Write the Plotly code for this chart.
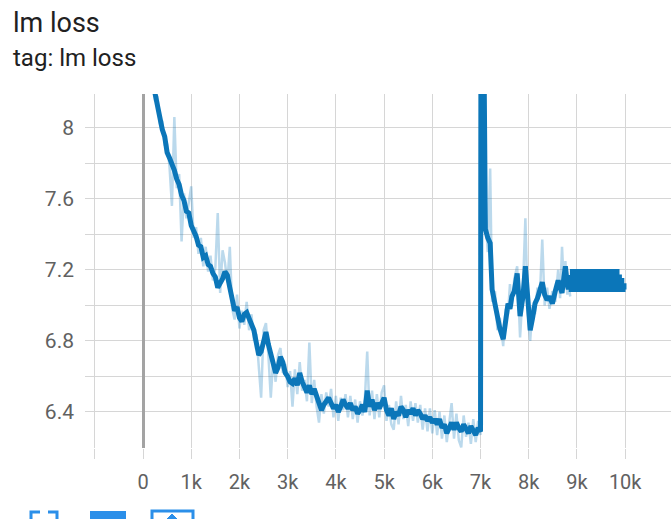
import plotly.graph_objects as go

# ---------------- data ----------------
steps_a = list(range(200, 7001, 50))
smooth_a = [8.26, 8.19, 8.14, 8.08, 7.99, 7.95, 7.86, 7.83, 7.80, 7.76,
            7.71, 7.68, 7.62, 7.59, 7.53, 7.52, 7.45, 7.42, 7.39, 7.34,
            7.33, 7.27, 7.28, 7.23, 7.22, 7.18, 7.16, 7.10, 7.12, 7.15,
            7.19, 7.17, 7.10, 7.04, 6.97, 6.99, 6.93, 6.91, 6.95, 6.96,
            6.92, 6.89, 6.86, 6.79, 6.72, 6.74, 6.80, 6.85, 6.78, 6.72,
            6.66, 6.62, 6.65, 6.71, 6.68, 6.62, 6.60, 6.57, 6.56, 6.59,
            6.55, 6.62, 6.57, 6.53, 6.51, 6.55, 6.50, 6.53, 6.49, 6.46,
            6.41, 6.44, 6.46, 6.48, 6.45, 6.42, 6.44, 6.40, 6.43, 6.47,
            6.44, 6.42, 6.45, 6.41, 6.43, 6.39, 6.41, 6.44, 6.40, 6.52,
            6.43, 6.47, 6.41, 6.45, 6.42, 6.46, 6.48, 6.41, 6.38, 6.42,
            6.36, 6.40, 6.38, 6.43, 6.41, 6.37, 6.41, 6.39, 6.42, 6.38,
            6.41, 6.39, 6.36, 6.38, 6.35, 6.37, 6.34, 6.36, 6.33, 6.36,
            6.31, 6.33, 6.28, 6.31, 6.34, 6.30, 6.34, 6.31, 6.29, 6.33,
            6.31, 6.28, 6.32, 6.30, 6.27, 6.31, 6.29]
raw_a = [8.30, 8.15, 8.18, 8.02, 8.04, 7.90, 7.91, 7.78, 7.56, 8.06,
         7.66, 7.74, 7.36, 7.63, 7.49, 7.58, 7.67, 7.38, 7.44, 7.29,
         7.38, 7.22, 7.33, 7.19, 7.28, 7.14, 7.21, 7.52, 7.07, 7.31,
         7.24, 7.13, 7.33, 6.98, 6.92, 7.06, 6.87, 6.97, 6.89, 7.02,
         6.86, 6.95, 6.80, 6.84, 6.66, 6.48, 6.86, 6.90, 6.72, 6.48,
         6.70, 6.57, 6.72, 6.76, 6.62, 6.67, 6.54, 6.63, 6.43, 6.64,
         6.50, 6.68, 6.52, 6.58, 6.46, 6.79, 6.45, 6.58, 6.43, 6.34,
         6.50, 6.39, 6.51, 6.43, 6.53, 6.37, 6.49, 6.35, 6.48, 6.41,
         6.50, 6.37, 6.49, 6.36, 6.47, 6.34, 6.46, 6.38, 6.47, 6.74,
         6.38, 6.52, 6.36, 6.50, 6.37, 6.51, 6.55, 6.35, 6.44, 6.33,
         6.30, 6.46, 6.33, 6.49, 6.36, 6.44, 6.32, 6.46, 6.35, 6.45,
         6.34, 6.44, 6.30, 6.42, 6.29, 6.42, 6.28, 6.41, 6.27, 6.40,
         6.25, 6.38, 6.23, 6.36, 6.45, 6.25, 6.39, 6.24, 6.20, 6.38,
         6.26, 6.34, 6.22, 6.36, 6.23, 6.35, 6.27]

steps_b = [7015, 7100, 7150, 7200, 7240, 7300, 7350, 7400, 7470, 7520,
           7570, 7610, 7650, 7700, 7760, 7820, 7880, 7930, 7980, 8030,
           8080, 8130, 8180, 8230, 8280, 8330, 8380, 8430, 8490, 8550,
           8610, 8650, 8690, 8730, 8760, 8800, 8820, 8860]
smooth_b = [10.4, 7.43, 7.38, 7.35, 7.09, 7.00, 6.93, 6.87, 6.81, 6.92,
            7.01, 6.98, 7.05, 7.08, 7.18, 6.94, 7.05, 7.22, 7.02, 6.86,
            6.93, 7.01, 7.04, 7.10, 7.13, 7.06, 7.03, 7.05, 7.01, 7.08,
            7.14, 7.10, 7.07, 7.16, 7.22, 7.12, 7.09, 7.17]
raw_b = [10.4, 7.52, 7.30, 7.77, 7.02, 7.08, 6.86, 6.93, 6.77, 6.98,
         6.95, 7.12, 6.99, 7.15, 7.22, 6.82, 7.10, 7.49, 6.96, 6.80,
         7.00, 6.95, 7.10, 7.05, 7.37, 7.00, 7.10, 6.98, 7.08, 7.02,
         7.20, 7.04, 7.33, 7.10, 7.25, 7.06, 7.14, 7.05]

steps_c = list(range(8880, 9781, 25)) + [9805, 9830, 9855, 9880, 9905, 9930, 9955, 9975, 10000]
smooth_c = [7.09, 7.19, 7.09, 7.19, 7.09, 7.19, 7.09, 7.19, 7.09, 7.19,
            7.09, 7.19, 7.09, 7.19, 7.09, 7.19, 7.09, 7.19, 7.09, 7.19,
            7.09, 7.19, 7.09, 7.19, 7.09, 7.19, 7.09, 7.19, 7.09, 7.19,
            7.09, 7.19, 7.09, 7.19, 7.09, 7.19, 7.09,
            7.19, 7.09, 7.16, 7.09, 7.14, 7.09, 7.11, 7.09, 7.09]

x_tickvals = [-1000, 0, 1000, 2000, 3000, 4000, 5000, 6000, 7000, 8000, 9000, 10000]
x_ticktext = ["", "0", "1k", "2k", "3k", "4k", "5k", "6k", "7k", "8k", "9k", "10k"]
y_tickvals = [6.4, 6.8, 7.2, 7.6, 8.0]
y_ticktext = ["6.4", "6.8", "7.2", "7.6", "8"]

title_text = "lm loss"
subtitle_text = "tag: lm loss"

# ---------------- figure ----------------
BLUE = "#0b76b9"
GRID = "#d6d6d6"

fig = go.Figure()
fig.add_trace(go.Scatter(x=steps_a + steps_b, y=raw_a + raw_b, mode="lines",
                         line=dict(color="rgba(11,118,185,0.28)", width=2.5),
                         hoverinfo="skip", showlegend=False))
fig.add_trace(go.Scatter(x=steps_a + steps_b, y=smooth_a + smooth_b,
                         mode="lines", line=dict(color=BLUE, width=5),
                         showlegend=False))
# dense oscillating tail of the same series (drawn step-wise so it renders solid)
fig.add_trace(go.Scatter(x=steps_b[-1:] + steps_c, y=smooth_b[-1:] + smooth_c,
                         mode="lines", line=dict(color=BLUE, width=5, shape="hv"),
                         showlegend=False))

W, H = 671, 519
L, R, T, B = 85, 0, 94, 71
pw, ph = W - L - R, H - T - B


def px(x):
    return (x - L) / pw


def py(y):
    return (H - B - y) / ph


ICON = "#2b8fe9"
shapes = [
    dict(type="path", xref="paper", yref="paper",
         path=f"M {px(40)} {py(512)} L {px(31)} {py(512)} L {px(31)} {py(522)}",
         line=dict(color=ICON, width=3)),
    dict(type="path", xref="paper", yref="paper",
         path=f"M {px(48)} {py(512)} L {px(57)} {py(512)} L {px(57)} {py(522)}",
         line=dict(color=ICON, width=3)),
    dict(type="rect", xref="paper", yref="paper",
         x0=px(90), x1=px(126), y0=py(511), y1=py(524),
         fillcolor=ICON, line=dict(width=0)),
    dict(type="rect", xref="paper", yref="paper",
         x0=px(152), x1=px(193), y0=py(511), y1=py(526),
         line=dict(color=ICON, width=3)),
    dict(type="path", xref="paper", yref="paper",
         path=f"M {px(167)} {py(519)} L {px(172)} {py(514)} L {px(177)} {py(519)} Z",
         fillcolor=ICON, line=dict(color=ICON, width=1)),
]

fig.update_layout(
    width=W, height=H,
    margin=dict(l=L, r=R, t=T, b=B),
    paper_bgcolor="white", plot_bgcolor="white",
    font=dict(family="Roboto", color="#616161"),
    showlegend=False,
    shapes=shapes,
    annotations=[
        dict(text=title_text, xref="paper", yref="paper", x=px(11), y=py(5),
             xanchor="left", yanchor="top", showarrow=False,
             font=dict(size=27, color="#212121", family="Roboto")),
        dict(text=subtitle_text, xref="paper", yref="paper", x=px(11), y=py(42),
             xanchor="left", yanchor="top", showarrow=False,
             font=dict(size=24, color="#212121", family="Roboto")),
    ],
)
fig.update_xaxes(
    range=[-1203, 10950], tickvals=x_tickvals, ticktext=x_ticktext,
    showgrid=True, gridcolor=GRID, gridwidth=1,
    zeroline=True, zerolinecolor="#a3a3a3", zerolinewidth=2.5,
    ticks="outside", ticklen=10, tickcolor=GRID, tickwidth=1,
    ticklabelstandoff=6,
    tickfont=dict(size=20, color="#616161"), showline=False,
)
fig.update_yaxes(
    range=[6.197, 8.19], tickvals=y_tickvals, ticktext=y_ticktext,
    showgrid=True, gridcolor=GRID, gridwidth=1,
    minor=dict(tickvals=[6.2, 6.6, 7.0, 7.4, 7.8], showgrid=True, gridcolor=GRID, gridwidth=1),
    zeroline=False, ticks="", ticklabelstandoff=10,
    tickfont=dict(size=21, color="#616161"), showline=False,
)

fig.write_html("out.html", config={"displayModeBar": False},
               post_script="document.body.style.margin='0';")
